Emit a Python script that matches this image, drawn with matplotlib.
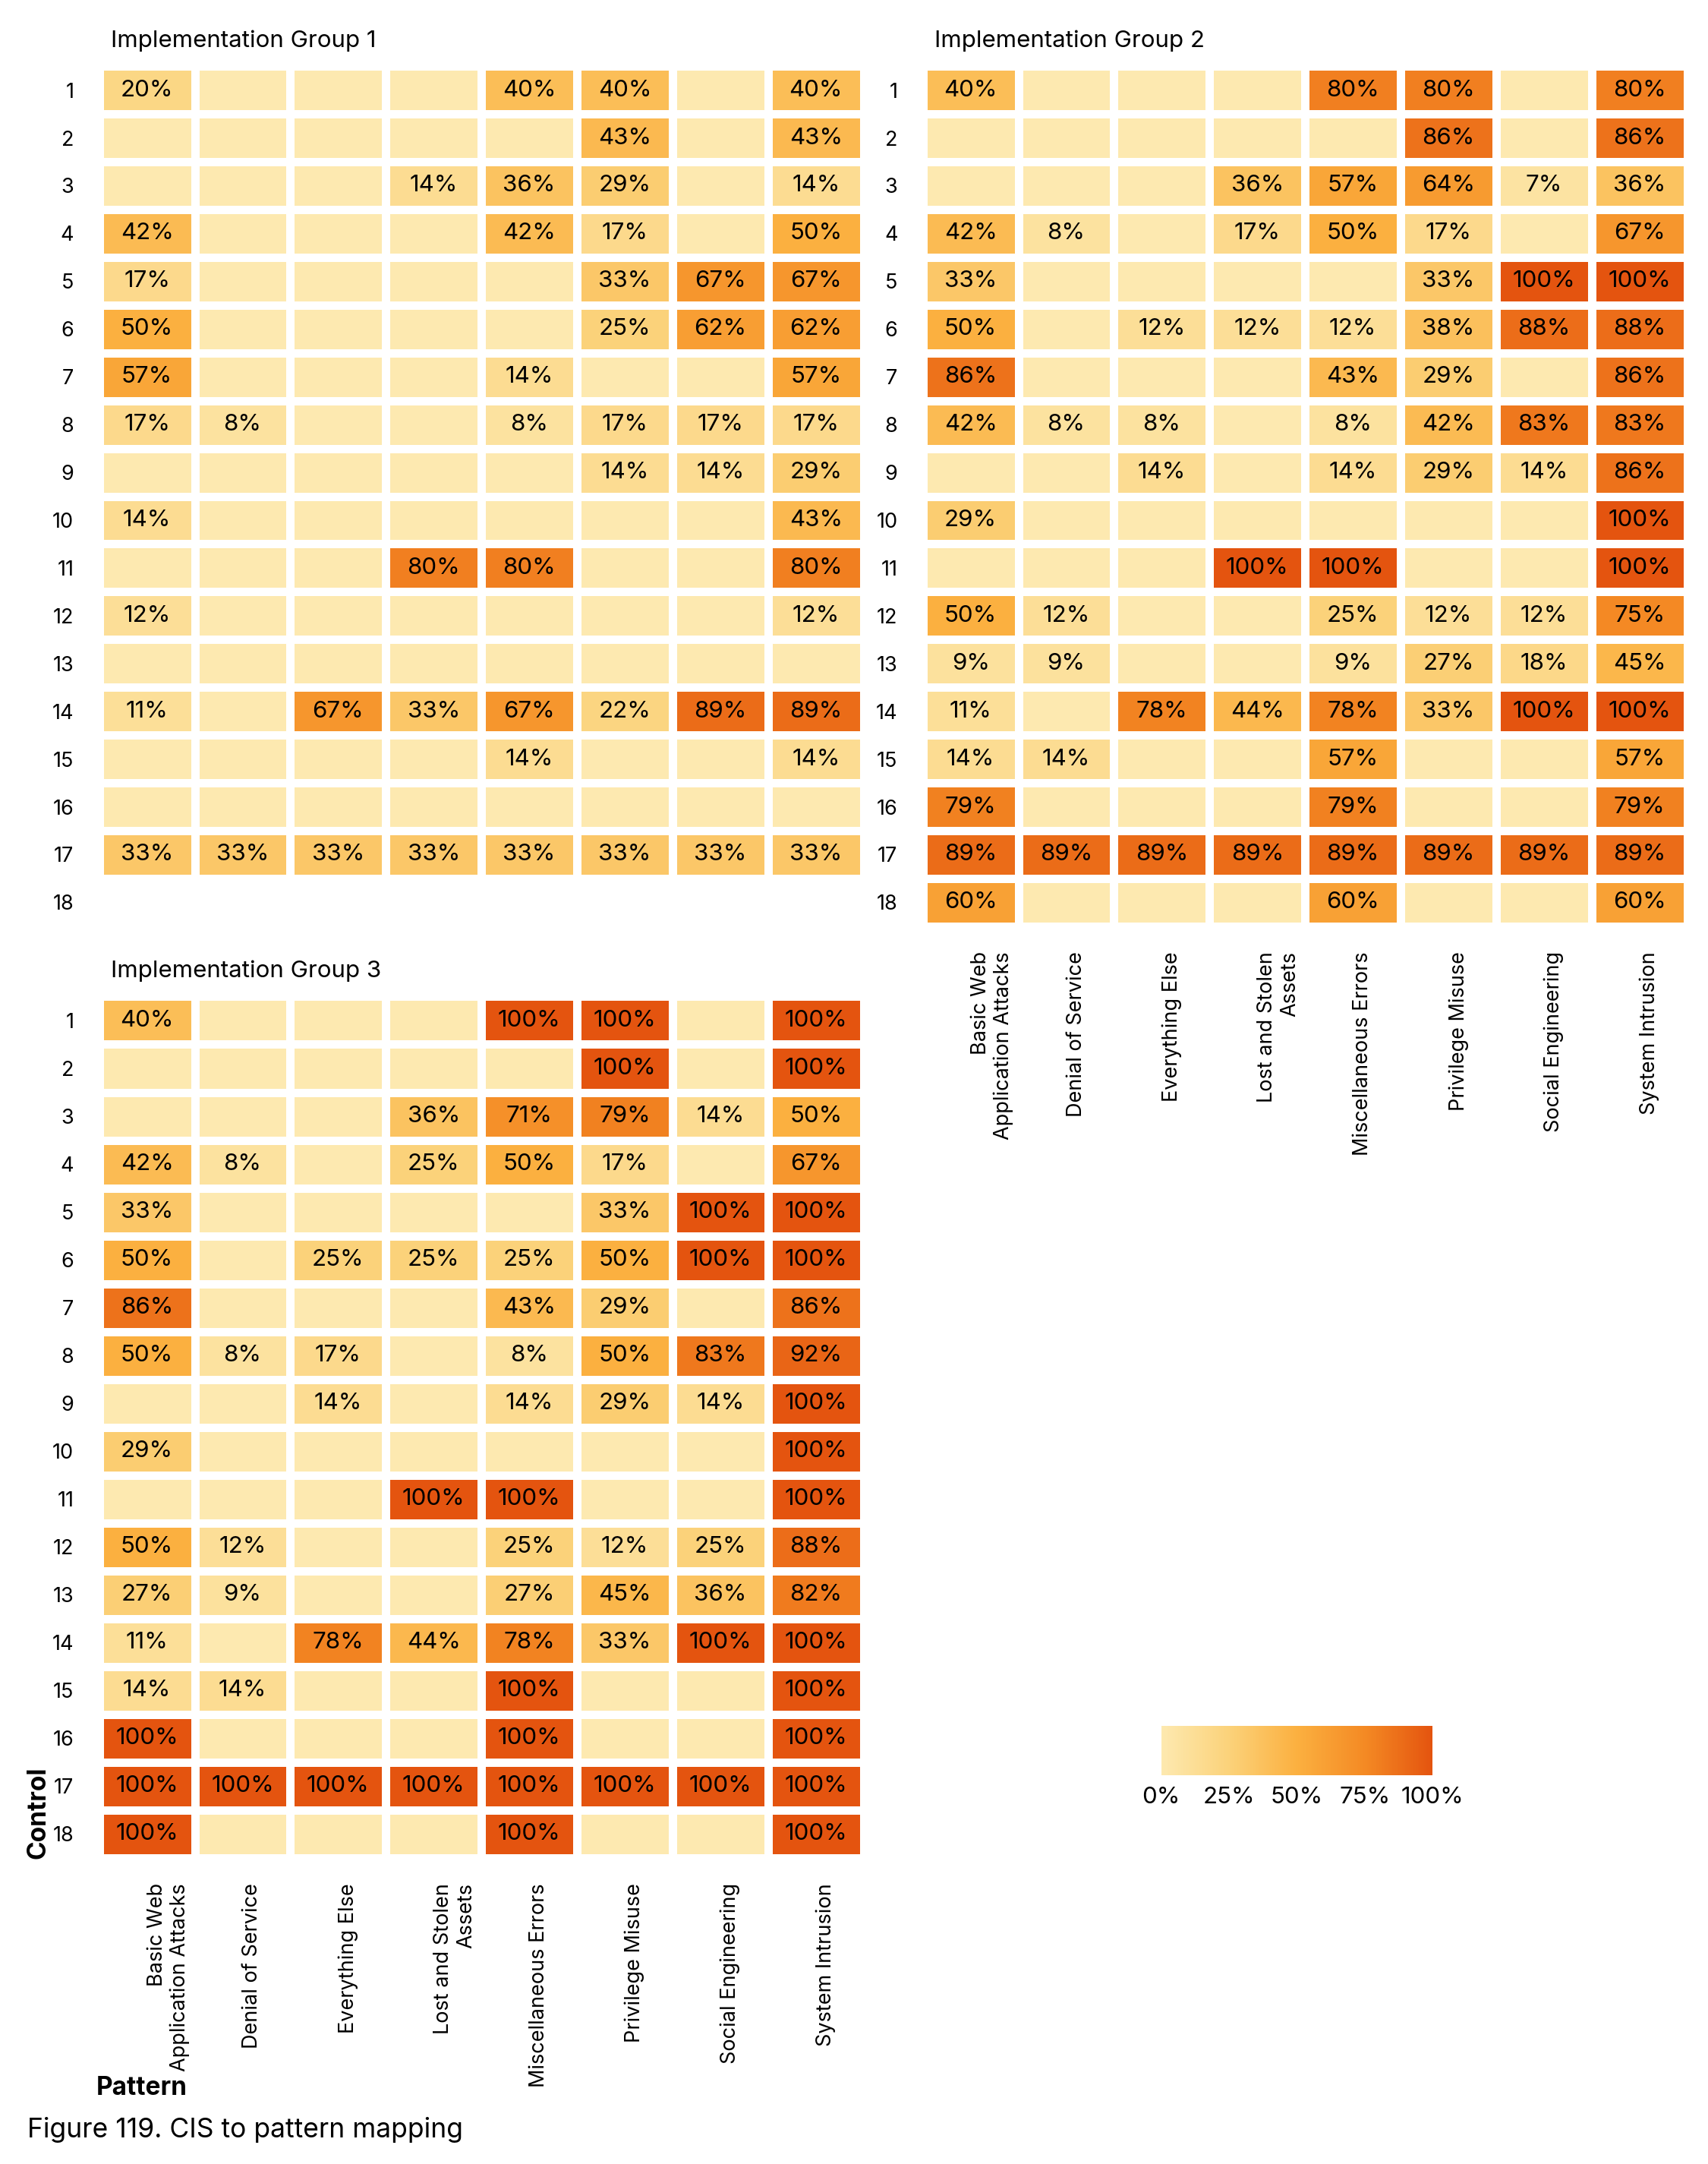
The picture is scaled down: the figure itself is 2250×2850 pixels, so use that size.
import numpy as np
import matplotlib.pyplot as plt
from matplotlib.colors import LinearSegmentedColormap

plt.rcParams['font.family'] = ['Inter', 'DejaVu Sans']

patterns = ['Basic Web\nApplication Attacks', 'Denial of Service', 'Everything Else',
            'Lost and Stolen\nAssets', 'Miscellaneous Errors', 'Privilege Misuse',
            'Social Engineering', 'System Intrusion']
controls = list(range(1, 19))

ig1 = [
    [20, 0, 0, 0, 40, 40, 0, 40],
    [0, 0, 0, 0, 0, 43, 0, 43],
    [0, 0, 0, 14, 36, 29, 0, 14],
    [42, 0, 0, 0, 42, 17, 0, 50],
    [17, 0, 0, 0, 0, 33, 67, 67],
    [50, 0, 0, 0, 0, 25, 62, 62],
    [57, 0, 0, 0, 14, 0, 0, 57],
    [17, 8, 0, 0, 8, 17, 17, 17],
    [0, 0, 0, 0, 0, 14, 14, 29],
    [14, 0, 0, 0, 0, 0, 0, 43],
    [0, 0, 0, 80, 80, 0, 0, 80],
    [12, 0, 0, 0, 0, 0, 0, 12],
    [0, 0, 0, 0, 0, 0, 0, 0],
    [11, 0, 67, 33, 67, 22, 89, 89],
    [0, 0, 0, 0, 14, 0, 0, 14],
    [0, 0, 0, 0, 0, 0, 0, 0],
    [33, 33, 33, 33, 33, 33, 33, 33],
    [None] * 8,
]
ig2 = [
    [40, 0, 0, 0, 80, 80, 0, 80],
    [0, 0, 0, 0, 0, 86, 0, 86],
    [0, 0, 0, 36, 57, 64, 7, 36],
    [42, 8, 0, 17, 50, 17, 0, 67],
    [33, 0, 0, 0, 0, 33, 100, 100],
    [50, 0, 12, 12, 12, 38, 88, 88],
    [86, 0, 0, 0, 43, 29, 0, 86],
    [42, 8, 8, 0, 8, 42, 83, 83],
    [0, 0, 14, 0, 14, 29, 14, 86],
    [29, 0, 0, 0, 0, 0, 0, 100],
    [0, 0, 0, 100, 100, 0, 0, 100],
    [50, 12, 0, 0, 25, 12, 12, 75],
    [9, 9, 0, 0, 9, 27, 18, 45],
    [11, 0, 78, 44, 78, 33, 100, 100],
    [14, 14, 0, 0, 57, 0, 0, 57],
    [79, 0, 0, 0, 79, 0, 0, 79],
    [89, 89, 89, 89, 89, 89, 89, 89],
    [60, 0, 0, 0, 60, 0, 0, 60],
]
ig3 = [
    [40, 0, 0, 0, 100, 100, 0, 100],
    [0, 0, 0, 0, 0, 100, 0, 100],
    [0, 0, 0, 36, 71, 79, 14, 50],
    [42, 8, 0, 25, 50, 17, 0, 67],
    [33, 0, 0, 0, 0, 33, 100, 100],
    [50, 0, 25, 25, 25, 50, 100, 100],
    [86, 0, 0, 0, 43, 29, 0, 86],
    [50, 8, 17, 0, 8, 50, 83, 92],
    [0, 0, 14, 0, 14, 29, 14, 100],
    [29, 0, 0, 0, 0, 0, 0, 100],
    [0, 0, 0, 100, 100, 0, 0, 100],
    [50, 12, 0, 0, 25, 12, 25, 88],
    [27, 9, 0, 0, 27, 45, 36, 82],
    [11, 0, 78, 44, 78, 33, 100, 100],
    [14, 14, 0, 0, 100, 0, 0, 100],
    [100, 0, 0, 0, 100, 0, 0, 100],
    [100, 100, 100, 100, 100, 100, 100, 100],
    [100, 0, 0, 0, 100, 0, 0, 100],
]

cmap = LinearSegmentedColormap.from_list('cis', ['#fde9b0', '#fbd27a', '#fbb040', '#f48a24', '#e4540f'])

W, H = 1240, 1570
fig = plt.figure(figsize=(7.5, 9.5), dpi=300)


def panel(rect, data, title, xlabels):
    l, t, r, b = rect
    ax = fig.add_axes([l / W, 1 - b / H, (r - l) / W, (b - t) / H])
    arr = np.array([[np.nan if v is None else v for v in row] for row in data], dtype=float)
    m = ax.pcolormesh(np.ma.masked_invalid(arr), cmap=cmap, vmin=0, vmax=100,
                      edgecolor='white', linewidth=2.2)
    ax.set_ylim(len(controls), 0)
    ax.set_xlim(0, len(patterns))
    for i in range(arr.shape[0]):
        for j in range(arr.shape[1]):
            v = arr[i, j]
            if not np.isnan(v) and v > 0:
                ax.text(j + 0.5, i + 0.5, f'{int(v)}%', ha='center', va='center', fontsize=7.5)
    ax.set_yticks(np.arange(len(controls)) + 0.5)
    ax.set_yticklabels(controls, fontsize=6.5)
    if xlabels:
        ax.set_xticks(np.arange(len(patterns)) + 0.5)
        ax.set_xticklabels(patterns, rotation=90, fontsize=6.5, ha='right', va='top',
                           rotation_mode='anchor')
    else:
        ax.set_xticks([])
    ax.tick_params(length=0, pad=8)
    for s in ax.spines.values():
        s.set_visible(False)
    ax.set_title(title, loc='left', fontsize=7.5, x=0.015, pad=6)
    return m


panel((72, 48, 627, 672), ig1, 'Implementation Group 1', False)
panel((670, 48, 1225, 672), ig2, 'Implementation Group 2', True)
m = panel((72, 723, 627, 1348), ig3, 'Implementation Group 3', True)

cax = fig.add_axes([843 / W, 1 - 1288 / H, 197 / W, 36 / H])
cb = fig.colorbar(m, cax=cax, orientation='horizontal', ticks=[0, 25, 50, 75, 100])
cb.set_ticklabels(['0%', '25%', '50%', '75%', '100%'])
cb.ax.tick_params(length=0, labelsize=7.5)
cb.outline.set_visible(False)

fig.text(28 / W, 1 - 1315 / H, 'Control', rotation=90, fontsize=8, fontweight='bold',
         ha='center', va='center')
fig.text(70 / W, 1 - 1515 / H, 'Pattern', fontsize=8, fontweight='bold', ha='left', va='center')
fig.text(20 / W, 1 - 1545 / H, 'Figure 119. CIS to pattern mapping', fontsize=8.5,
         ha='left', va='center')

fig.savefig('out.png', dpi=300, facecolor='white')
